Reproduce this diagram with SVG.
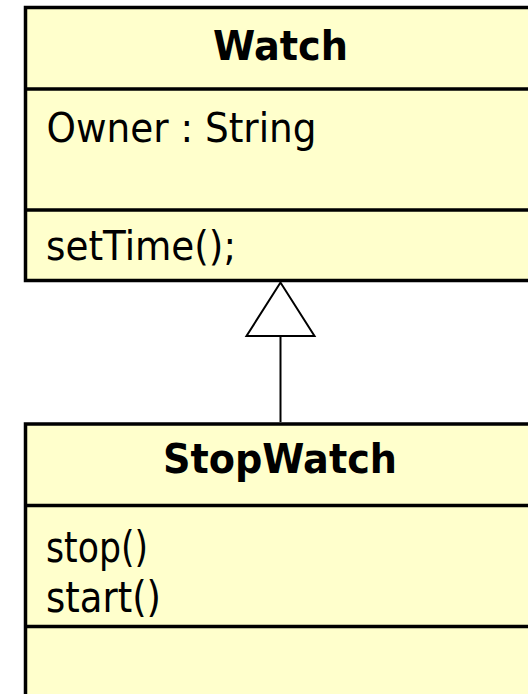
<svg xmlns="http://www.w3.org/2000/svg" width="528" height="694" viewBox="0 0 528 694">
  <style>
    .box { fill: #ffffcc; stroke: #000; stroke-width: 3.5; }
    .sep { stroke: #000; stroke-width: 3.5; fill: none; }
    .name { font-family: "DejaVu Sans", Tahoma, sans-serif; font-weight: bold; font-size: 41px; fill: #000; }
    .member { font-family: "DejaVu Sans", Tahoma, sans-serif; font-size: 40px; fill: #000; }
    .op { font-family: "DejaVu Sans", Tahoma, sans-serif; font-size: 42.5px; fill: #000; }
    .edge { stroke: #000; stroke-width: 2; fill: none; }
    .head { stroke: #000; stroke-width: 2; fill: #fff; stroke-linejoin: miter; }
  </style>
  <rect width="528" height="694" fill="#fff"/>

  <!-- Watch class -->
  <g id="watch">
    <rect class="box" x="25.5" y="7.5" width="520" height="273"/>
    <line class="sep" x1="25.5" y1="89" x2="545" y2="89"/>
    <line class="sep" x1="25.5" y1="210" x2="545" y2="210"/>
    <text class="name" x="213" y="59.5" textLength="135" lengthAdjust="spacingAndGlyphs">Watch</text>
    <text class="member" x="46.5" y="141.5" textLength="270" lengthAdjust="spacingAndGlyphs">Owner : String</text>
    <text class="member" x="46" y="260" textLength="190" lengthAdjust="spacingAndGlyphs">setTime();</text>
  </g>

  <!-- StopWatch class -->
  <g id="stopwatch">
    <rect class="box" x="25.5" y="424" width="520" height="290"/>
    <line class="sep" x1="25.5" y1="505.5" x2="545" y2="505.5"/>
    <line class="sep" x1="25.5" y1="626.5" x2="545" y2="626.5"/>
    <text class="name" x="163" y="473" textLength="234" lengthAdjust="spacingAndGlyphs">StopWatch</text>
    <text class="op" x="46" y="562" textLength="102" lengthAdjust="spacingAndGlyphs">stop()</text>
    <text class="op" x="46" y="612" textLength="115" lengthAdjust="spacingAndGlyphs">start()</text>
  </g>

  <!-- Generalization: StopWatch inherits from Watch -->
  <g id="connectors">
    <line class="edge" x1="280.5" y1="336" x2="280.5" y2="422"/>
    <polygon class="head" points="280.5,282.5 246.5,336 314.5,336"/>
  </g>
</svg>
